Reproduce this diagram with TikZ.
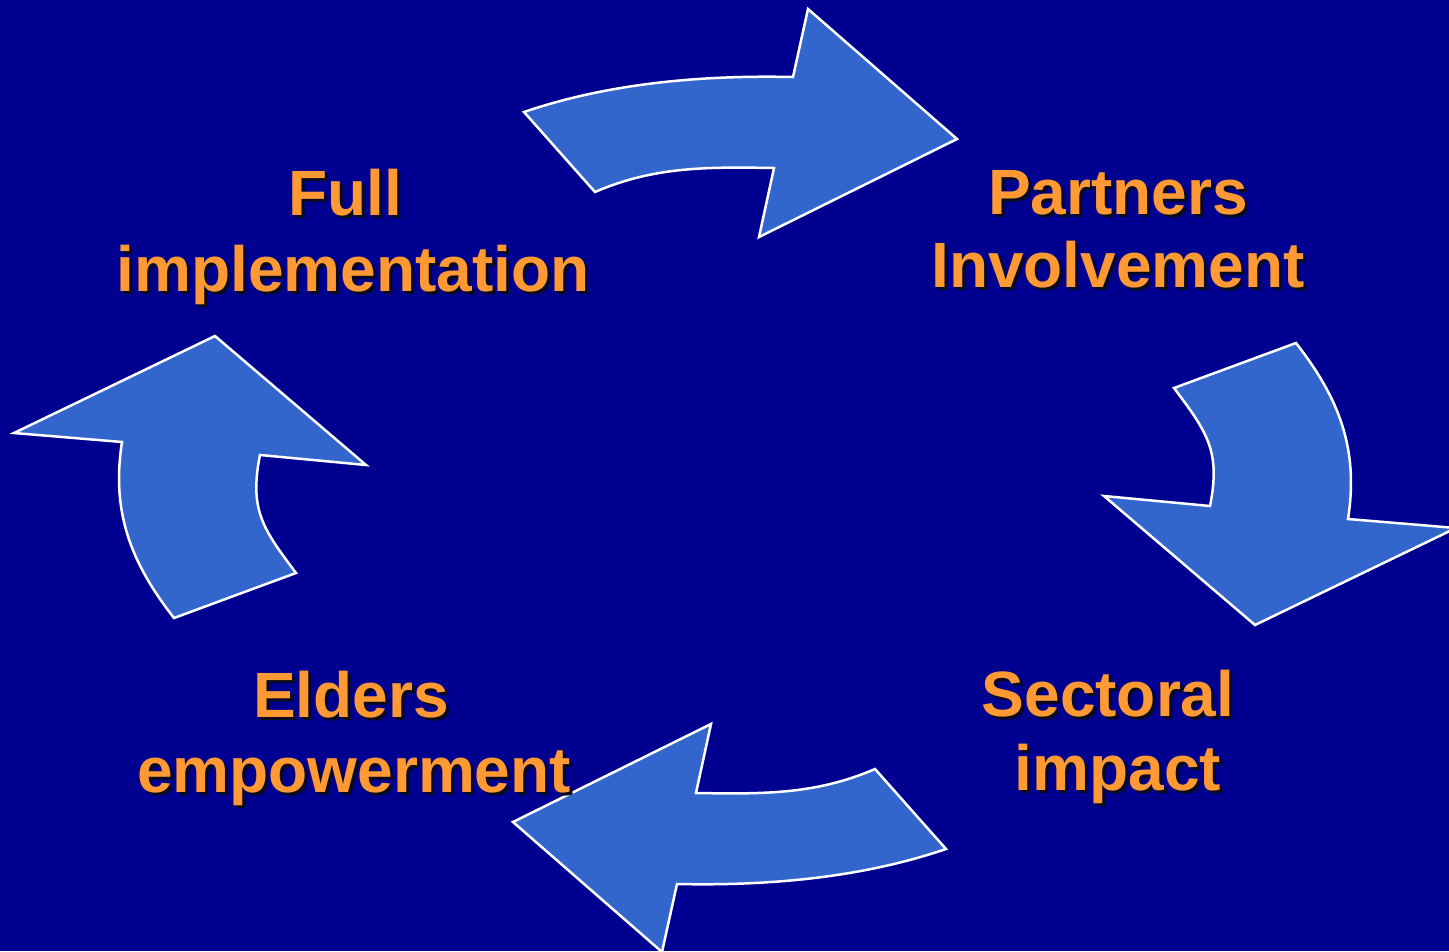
\documentclass[tikz,border=0pt]{standalone}
\usepackage{fontspec}
\setmainfont{Liberation Sans}
\definecolor{bgblue}{RGB}{0,0,144}
\definecolor{arrowblue}{RGB}{51,102,204}
\definecolor{txtorange}{RGB}{255,153,51}
\definecolor{txtshadow}{RGB}{10,10,30}
\newcommand\shadowtxt[1]{\makebox[0pt][l]{\hspace{3pt}\raisebox{-3pt}{\textcolor{txtshadow}{#1}}}#1}
\begin{document}
\begin{tikzpicture}[x=1pt,y=-1pt,
  cyclearrow/.style={fill=arrowblue,draw=white,line width=2.5pt,line join=miter},
  lbl/.style={inner sep=0pt,anchor=base,text=txtorange,font=\fontsize{64}{70}\selectfont\bfseries}]
\fill[bgblue] (0,0) rectangle (1449,951);
\useasboundingbox (0,0) rectangle (1449,951);
\clip (0,0) rectangle (1449,951);

% top arrow and its point-symmetric twin (bottom)
\foreach \ang in {0,180}{
  \draw[cyclearrow, rotate around={\ang:(735,480.5)}]
    (524,112) .. controls (609,83) and (703,75) .. (793,77)
    -- (808,9) -- (957,139) -- (759,237) -- (774,168)
    .. controls (709,167) and (655,166) .. (595,192) -- cycle;
}
% right arrow and its point-symmetric twin (left)
\foreach \ang in {0,180}{
  \draw[cyclearrow, rotate around={\ang:(735,480.5)}]
    (1296,343) -- (1174,388)
    .. controls (1207,432) and (1221,451) .. (1210,506)
    -- (1104,496) -- (1255,625) -- (1456,528) -- (1348,519)
    .. controls (1359,449) and (1339,398) .. (1296,343) -- cycle;
}

\node[lbl] (full1) at (345,215) {\shadowtxt{Full}};
\node[lbl] (full2) at (353,291) {\shadowtxt{implementation}};
\node[lbl] (part1) at (1118,214) {\shadowtxt{Partners}};
\node[lbl] (part2) at (1118,287) {\shadowtxt{Involvement}};
\node[lbl] (sect1) at (1108,716) {\shadowtxt{Sectoral}};
\node[lbl] (sect2) at (1118,790) {\shadowtxt{impact}};
\node[lbl] (elder1) at (351,717) {\shadowtxt{Elders}};
\node[lbl] (elder2) at (354,792) {\shadowtxt{empowerment}};
\end{tikzpicture}
\end{document}
